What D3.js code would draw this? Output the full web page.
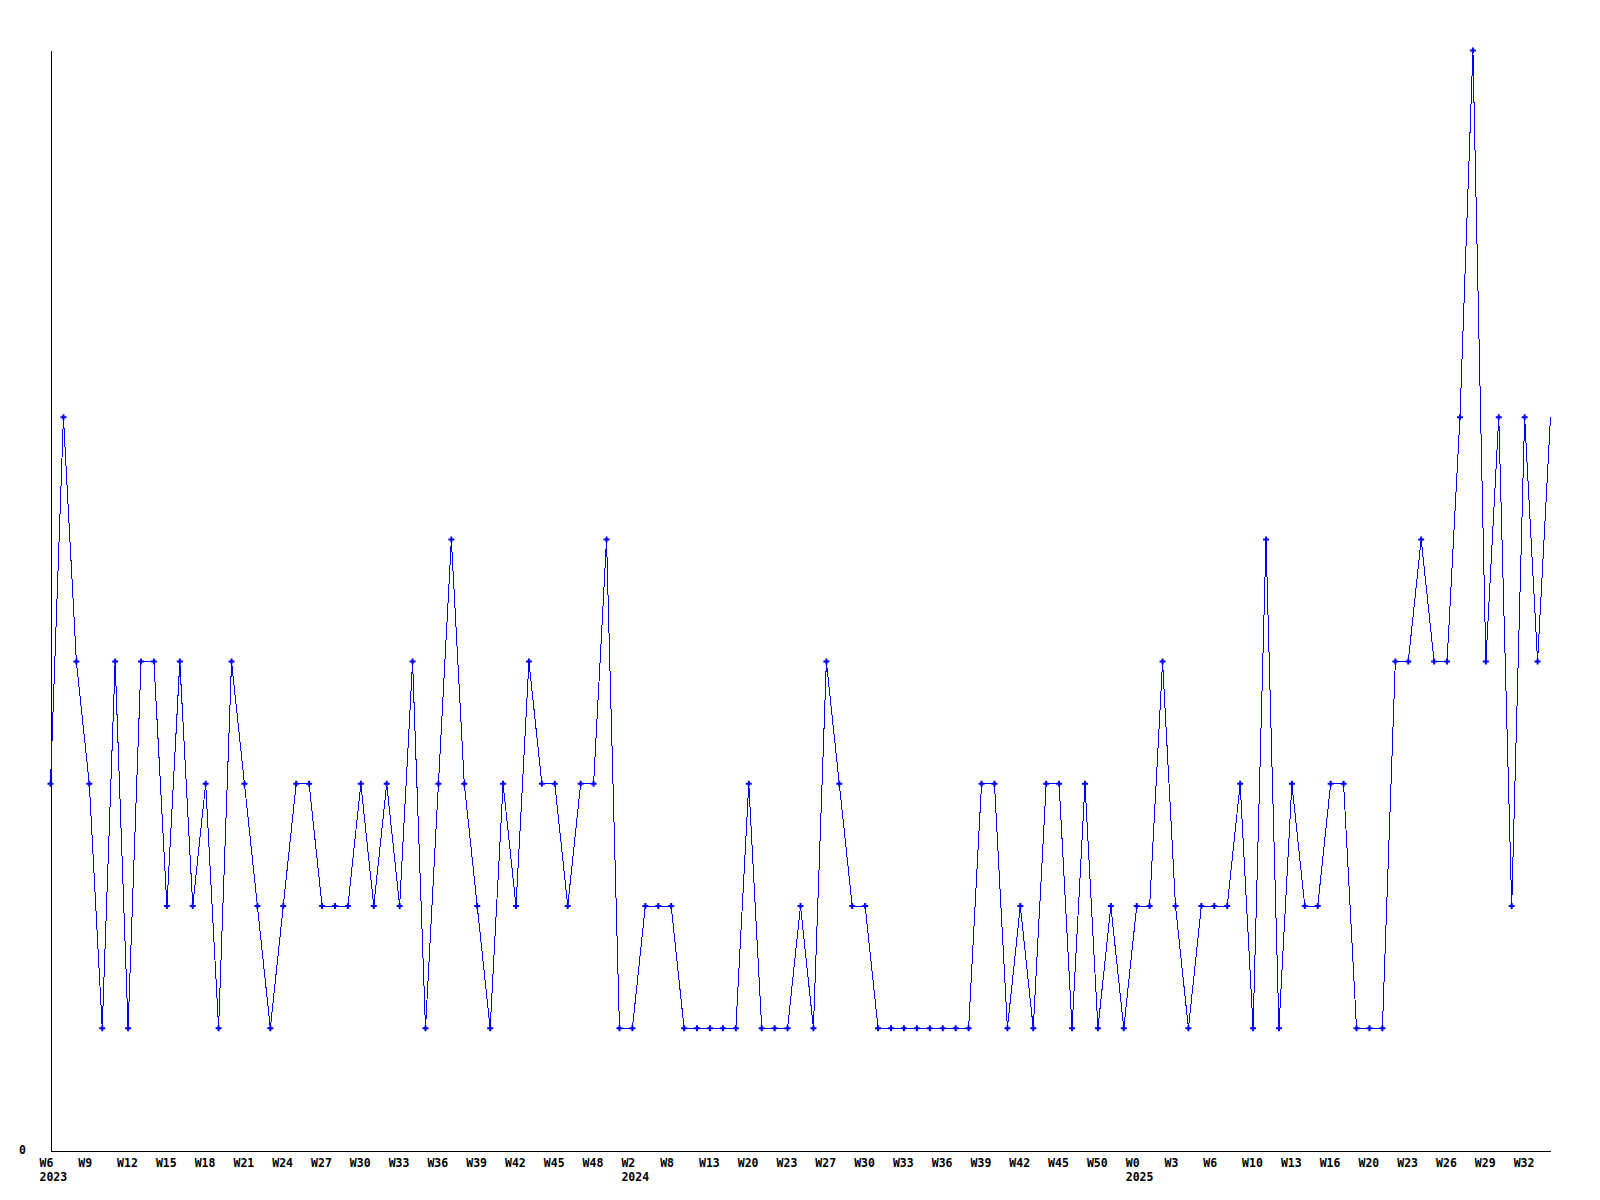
<!DOCTYPE html>
<html>
<head>
<meta charset="utf-8">
<script src="https://cdn.jsdelivr.net/npm/d3@7"></script>
<style>
  html, body { margin: 0; padding: 0; background: #fff; }
  svg { display: block; }
  text { font-family: "DejaVu Sans Mono", "Liberation Mono", monospace; font-weight: bold; font-size: 11.5px; fill: #000; }
</style>
</head>
<body>
<svg id="chart" width="1600" height="1200"></svg>
<script>
// ---- data ----
const weeks2023 = ["W6","W7","W8","W9","W10","W11","W12","W13","W14","W15","W16","W17","W18","W19","W20","W21","W22","W23","W24","W25","W26","W27","W28","W29","W30","W31","W32","W33","W34","W35","W36","W37","W38","W39","W40","W41","W42","W43","W44","W45","W46","W47","W48","W49","W50"];
const weeks2024 = ["W2","W3","W5","W8","W9","W11","W13","W15","W17","W20","W21","W22","W23","W25","W26","W27","W28","W29","W30","W31","W32","W33","W34","W35","W36","W37","W38","W39","W40","W41","W42","W43","W44","W45","W46","W48","W50","W51","W52"];
const weeks2025 = ["W0","W1","W2","W3","W4","W5","W6","W7","W8","W10","W11","W12","W13","W14","W15","W16","W17","W19","W20","W21","W22","W23","W24","W25","W26","W27","W28","W29","W30","W31","W32","W33","W34"];

const values2023 = [3,6,4,3,1,4,1,4,4,2,4,2,3,1,4,3,2,1,2,3,3,2,2,2,3,2,3,2,4,1,3,5,3,2,1,3,2,4,3,3,2,3,3,5,1];
const values2024 = [1,2,2,2,1,1,1,1,1,3,1,1,1,2,1,4,3,2,2,1,1,1,1,1,1,1,1,3,3,1,2,1,3,3,1,3,1,2,1];
const values2025 = [2,2,4,2,1,2,2,2,3,1,5,1,3,2,2,3,3,1,1,1,4,4,5,4,4,6,9,4,6,2,6,4,6];

const yTickValues = [0];
const yMax = 9;

// ---- build rows ----
const rows = [];
[[2023, weeks2023, values2023],[2024, weeks2024, values2024],[2025, weeks2025, values2025]].forEach(([yr, wk, vals]) => {
  wk.forEach((w, i) => rows.push({ key: yr + "-" + w, year: yr, week: w, value: vals[i], first: i === 0 }));
});

const svg = d3.select("#chart");

const x = d3.scalePoint().domain(rows.map(d => d.key)).range([50.5, 1550.5]);
const y = d3.scaleLinear().domain([0, yMax]).range([1150.5, 50.5]);

// tick every 3rd category
const tickKeys = rows.filter((d, i) => i % 3 === 0).map(d => d.key);
const byKey = new Map(rows.map(d => [d.key, d]));

// x axis
const gx = svg.append("g").attr("transform", "translate(0,1150)")
  .call(d3.axisBottom(x).tickValues(tickKeys).tickSize(0).tickSizeOuter(0)
        .tickFormat(k => byKey.get(k).week));
gx.select(".domain").attr("stroke", "#000").attr("shape-rendering", "crispEdges").attr("transform", "translate(0,0.5)");
gx.selectAll(".tick text")
  .attr("text-anchor", "start")
  .attr("x", -11.5)
  .attr("y", 16.5)
  .attr("dy", null)
  .attr("fill", "#000");
gx.attr("font-size", null).attr("font-family", null);

// year labels under first week of each year
gx.selectAll(".tick").each(function(k) {
  const d = byKey.get(k);
  if (d.first) {
    d3.select(this).append("text")
      .attr("text-anchor", "start")
      .attr("x", -11.5)
      .attr("y", 31)
      .text(d.year);
  }
});

// y axis
const gy = svg.append("g").attr("transform", "translate(50,0)")
  .call(d3.axisLeft(y).tickValues(yTickValues).tickSize(0).tickSizeOuter(0).tickFormat(d3.format("d")));
gy.select(".domain").attr("stroke", "#000").attr("shape-rendering", "crispEdges").attr("transform", "translate(0.5,0)");
gy.attr("font-size", null).attr("font-family", null);
gy.selectAll(".tick text").attr("x", -24).attr("dy", "0.25em").attr("fill", "#000");

// line
const line = d3.line().x(d => x(d.key)).y(d => y(d.value));
svg.append("path")
  .datum(rows)
  .attr("d", line)
  .attr("fill", "none")
  .attr("stroke", "#0000ff")
  .attr("stroke-width", 1)
  .attr("shape-rendering", "crispEdges");

// markers (last point has none)
const cross = d3.symbol().type(d3.symbolCross).size(20);
svg.append("g").selectAll("path")
  .data(rows.slice(0, rows.length - 1))
  .join("path")
  .attr("d", cross)
  .attr("transform", d => `translate(${x(d.key)},${y(d.value)})`)
  .attr("fill", "#0000ff");
</script>
</body>
</html>
